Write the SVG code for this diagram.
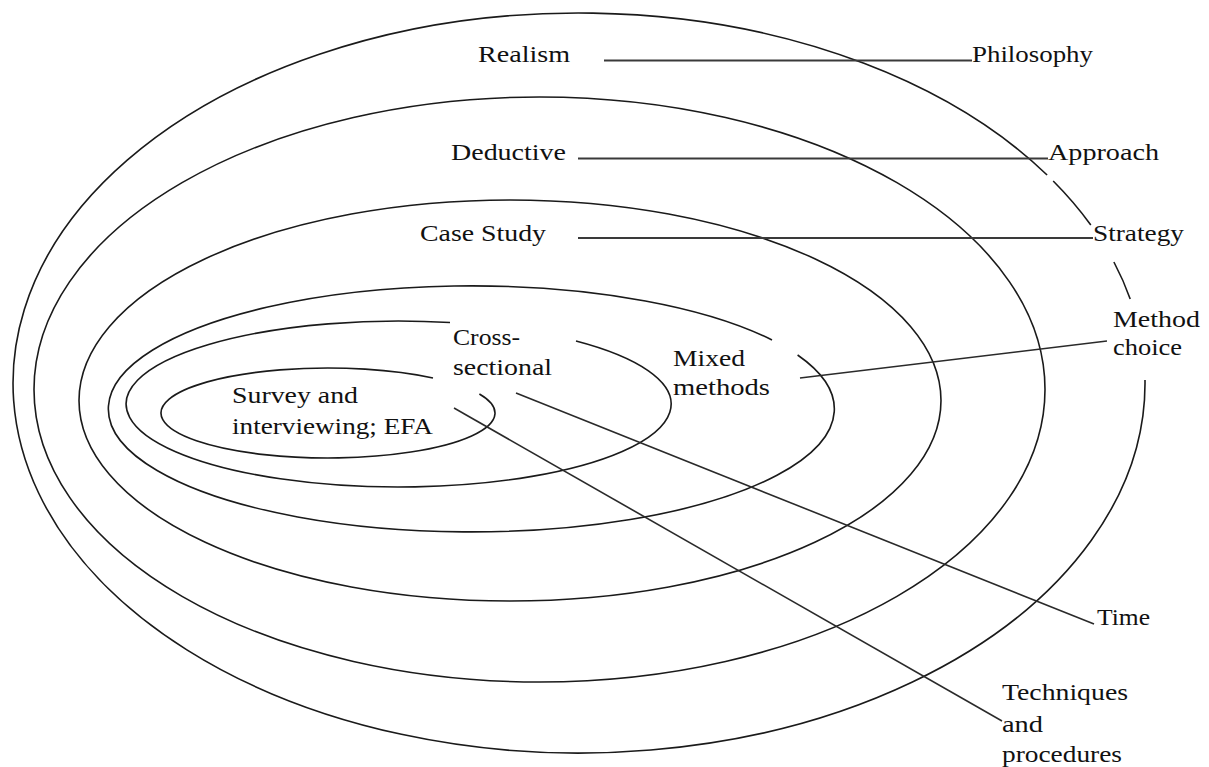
<svg xmlns="http://www.w3.org/2000/svg" width="1209" height="767" viewBox="0 0 1209 767">
<style>
.ring{fill:none;stroke:#1a1a1a;stroke-width:1.6}
.conn{fill:none;stroke:#2a2a2a;stroke-width:1.6}
.hline{fill:none;stroke:#3a3a3a;stroke-width:2.2}
text{font-family:"Liberation Serif","Times New Roman",serif;font-size:24px;fill:#111}
</style>
<rect width="1209" height="767" fill="#fff"/>
<g id="rings">
  <g id="ring-philosophy">
    <path class="ring" d="M1145,380 A566,370 0 1 1 1047.1,175"/>
    <path class="ring" d="M1053.2,181 A566,370 0 0 1 1090.8,225"/>
    <path class="ring" d="M1113.9,262 A566,370 0 0 1 1130.2,299"/>
  </g>
  <g id="ring-approach">
    <ellipse class="ring" cx="539.5" cy="389.5" rx="505.5" ry="292.5"/>
  </g>
  <g id="ring-strategy">
    <ellipse class="ring" cx="510" cy="400.5" rx="431" ry="200.5"/>
  </g>
  <g id="ring-method">
    <path class="ring" d="M797.6,355 A363,123 0 1 1 772,340"/>
  </g>
  <g id="ring-time">
    <path class="ring" d="M576,341 A272.5,83 0 1 1 450,322.5"/>
  </g>
  <g id="ring-techniques">
    <path class="ring" d="M479.4,394 A167,45 0 1 1 433,378"/>
  </g>
</g>
<g id="connectors">
  <line class="hline" x1="604" y1="60.5" x2="972" y2="60.5"/>
  <line class="hline" x1="578" y1="158.5" x2="1048" y2="158.5"/>
  <line class="hline" x1="578" y1="238" x2="1093" y2="238"/>
  <line class="conn" x1="800" y1="378" x2="1107" y2="341"/>
  <line class="conn" x1="516" y1="393" x2="1094" y2="624"/>
  <line class="conn" x1="454" y1="408" x2="1002" y2="721"/>
</g>
<g id="node-realism"><text x="478" y="62" textLength="92" lengthAdjust="spacingAndGlyphs">Realism</text></g>
<g id="node-philosophy"><text x="972" y="62" textLength="121" lengthAdjust="spacingAndGlyphs">Philosophy</text></g>
<g id="node-deductive"><text x="451" y="160" textLength="115" lengthAdjust="spacingAndGlyphs">Deductive</text></g>
<g id="node-approach"><text x="1048" y="160" textLength="111" lengthAdjust="spacingAndGlyphs">Approach</text></g>
<g id="node-casestudy"><text x="420" y="241" textLength="126" lengthAdjust="spacingAndGlyphs">Case Study</text></g>
<g id="node-strategy"><text x="1093" y="241" textLength="91" lengthAdjust="spacingAndGlyphs">Strategy</text></g>
<g id="node-crosssectional">
  <text x="453" y="345" textLength="67" lengthAdjust="spacingAndGlyphs">Cross-</text>
  <text x="453" y="375" textLength="99" lengthAdjust="spacingAndGlyphs">sectional</text>
</g>
<g id="node-mixed">
  <text x="673" y="366" textLength="72" lengthAdjust="spacingAndGlyphs">Mixed</text>
  <text x="673" y="395" textLength="97" lengthAdjust="spacingAndGlyphs">methods</text>
</g>
<g id="node-methodchoice">
  <text x="1113" y="327" textLength="87" lengthAdjust="spacingAndGlyphs">Method</text>
  <text x="1113" y="355" textLength="69" lengthAdjust="spacingAndGlyphs">choice</text>
</g>
<g id="node-survey">
  <text x="232" y="403" textLength="126" lengthAdjust="spacingAndGlyphs">Survey and</text>
  <text x="232" y="434" textLength="201" lengthAdjust="spacingAndGlyphs">interviewing;  EFA</text>
</g>
<g id="node-time"><text x="1097" y="625" textLength="53" lengthAdjust="spacingAndGlyphs">Time</text></g>
<g id="node-techniques">
  <text x="1002" y="700" textLength="126" lengthAdjust="spacingAndGlyphs">Techniques</text>
  <text x="1002" y="732" textLength="41" lengthAdjust="spacingAndGlyphs">and</text>
  <text x="1002" y="762" textLength="120" lengthAdjust="spacingAndGlyphs">procedures</text>
</g>
</svg>
